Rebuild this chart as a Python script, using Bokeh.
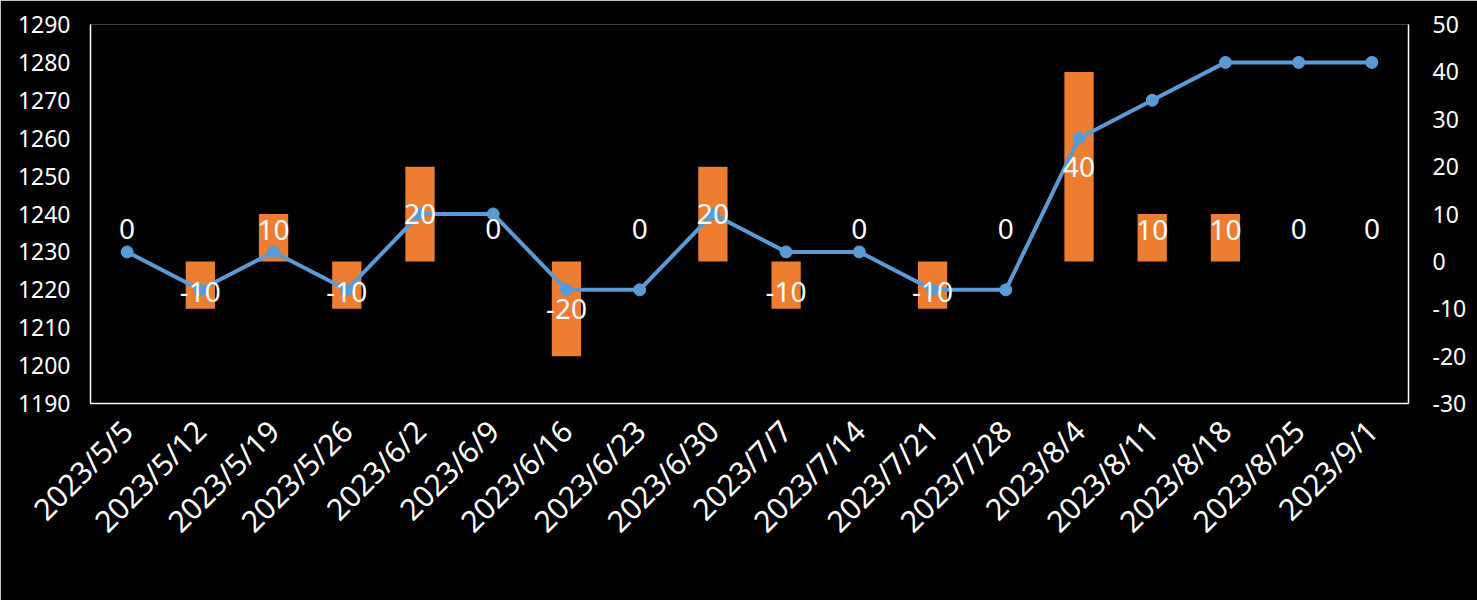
import math
from bokeh.plotting import figure
from bokeh.models import FactorRange, Range1d, LinearAxis, ColumnDataSource, FixedTicker
from bokeh.core.properties import value
from bokeh.embed import file_html
from bokeh.resources import INLINE

dates = ["2023/5/5", "2023/5/12", "2023/5/19", "2023/5/26", "2023/6/2", "2023/6/9",
         "2023/6/16", "2023/6/23", "2023/6/30", "2023/7/7", "2023/7/14", "2023/7/21",
         "2023/7/28", "2023/8/4", "2023/8/11", "2023/8/18", "2023/8/25", "2023/9/1"]
price = [1230, 1220, 1230, 1220, 1240, 1240, 1220, 1220, 1240, 1230, 1230, 1220,
         1220, 1260, 1270, 1280, 1280, 1280]
change = [0, -10, 10, -10, 20, 0, -20, 0, 20, -10, 0, -10, 0, 40, 10, 10, 0, 0]

left_ticks = list(range(1190, 1291, 10))
right_ticks = list(range(-30, 51, 10))

FONT = "Noto Sans"
WHITE = "#FFFFFF"

p = figure(width=1477, height=600, x_range=FactorRange(*dates, range_padding=0),
           y_range=Range1d(1190, 1290), output_backend="svg", toolbar_location=None,
           background_fill_color="black", border_fill_color="black",
           min_border_left=90, min_border_right=69, min_border_top=24, min_border_bottom=197)
p.outline_line_color = None
p.title.visible = False
p.grid.visible = False
p.extra_y_ranges = {"right": Range1d(-30, 50)}

# bars
p.vbar(x=dates, top=change, bottom=0, width=0.4, fill_color="#ED7D31", line_color=None,
       y_range_name="right")

# line
p.line(x=dates, y=price, line_color="#5B9BD5", line_width=4)
p.scatter(x=dates, y=price, size=12, color="#5B9BD5")

# data labels (centered in bar, nudged for short bars)
def off(v):
    if v == 0:
        return -32
    if abs(v) == 10:
        return -8 if v > 0 else 7
    return 0

lab = ColumnDataSource(dict(x=dates, y=[v / 2 for v in change], t=[str(v) for v in change],
                            o=[off(v) for v in change]))
p.text(x="x", y="y", text="t", y_offset="o", source=lab, y_range_name="right",
       text_color=WHITE, text_font=value(FONT), text_font_size="28px",
       text_align="center", text_baseline="middle")

def style(ax, size="23px"):
    ax.axis_line_color = WHITE
    ax.axis_line_width = 1.5
    ax.major_tick_line_color = None
    ax.minor_tick_line_color = None
    ax.major_label_text_color = WHITE
    ax.major_label_text_font = FONT
    ax.major_label_text_font_size = size

p.yaxis.ticker = FixedTicker(ticks=left_ticks)
style(p.yaxis[0])
p.yaxis.major_label_standoff = 14

ra = LinearAxis(y_range_name="right", ticker=FixedTicker(ticks=right_ticks))
style(ra)
ra.major_label_standoff = 18
ra.major_label_overrides = {t: str(t) for t in right_ticks}
p.add_layout(ra, "right")

style(p.xaxis[0], "30px")
p.xaxis.major_label_orientation = math.pi / 4
p.xaxis.major_label_standoff = 16

open("out.html", "w").write(file_html(p, INLINE))
